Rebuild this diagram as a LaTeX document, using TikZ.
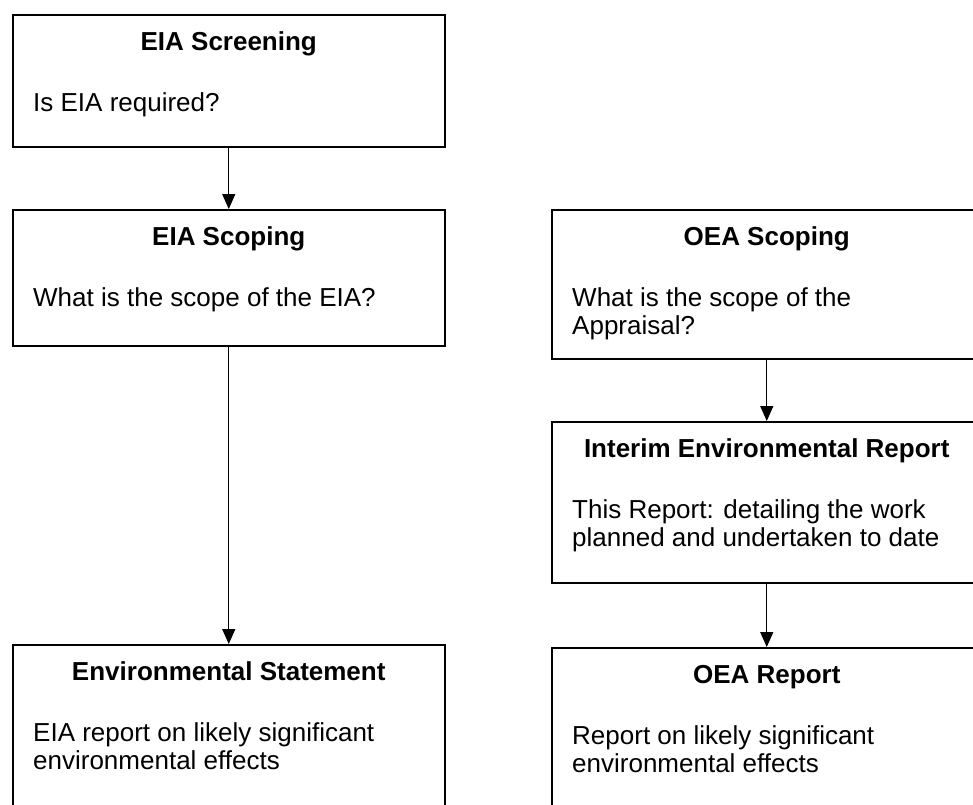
\documentclass[tikz,border=0pt]{standalone}
\usepackage{fontspec}
\setmainfont{Liberation Sans}
\usepackage{tikz}
\usetikzlibrary{arrows.meta, positioning, calc}
\newcommand{\letra}{\fontsize{26}{28.5}\selectfont}
\tikzset{
  caja/.style={draw, line width=1.5pt, rectangle, inner sep=0pt},
  titulo/.style={font=\letra\bfseries, anchor=base, inner sep=0pt},
  texto/.style={font=\letra, anchor=north west, align=left, inner sep=0pt},
  flecha/.style={line width=1.3pt, -{Triangle[width=13pt, length=15pt]}}
}
\newcommand{\etapa}[6]{%
  \node[caja, minimum width=#3, minimum height=#4, anchor=north west] (#1) at #2 {};
  \node[titulo] (#1-t) at ([yshift=-36]#1.north) {#5};
  \node[texto] (#1-x) at ([xshift=21, yshift=-78]#1.north west) {#6};%
}

\begin{document}
\begin{tikzpicture}[x=1pt, y=1pt]
        \useasboundingbox (0,0) rectangle (973,-804);
        \clip (0,0) rectangle (973,-804);
        % EIA
        \etapa{screen}{(12,-14)}{432}{132}{EIA Screening}{Is EIA required?}
        \etapa{scopeL}{(12,-209)}{432}{136}{EIA Scoping}{What is the scope of the EIA?}
        \etapa{statement}{(12,-644)}{432}{220}{Environmental Statement}{EIA report on likely significant\\environmental effects}
        % OEA
        \etapa{scopeR}{(551,-209)}{430}{149}{OEA Scoping}{What is the scope of the\\Appraisal?}
        \etapa{interim}{(551,-421)}{430}{161}{Interim Environmental Report}{This Report: detailing the work\\planned and undertaken to date}
        \etapa{report}{(551,-647)}{430}{220}{OEA Report}{Report on likely significant\\environmental effects}
        \draw[flecha] (screen) -- (scopeL);
        \draw[flecha] (scopeL) -- (statement);
        \draw[flecha] (scopeR) -- (interim);
        \draw[flecha] (interim) -- (report);
      \end{tikzpicture}
\end{document}
